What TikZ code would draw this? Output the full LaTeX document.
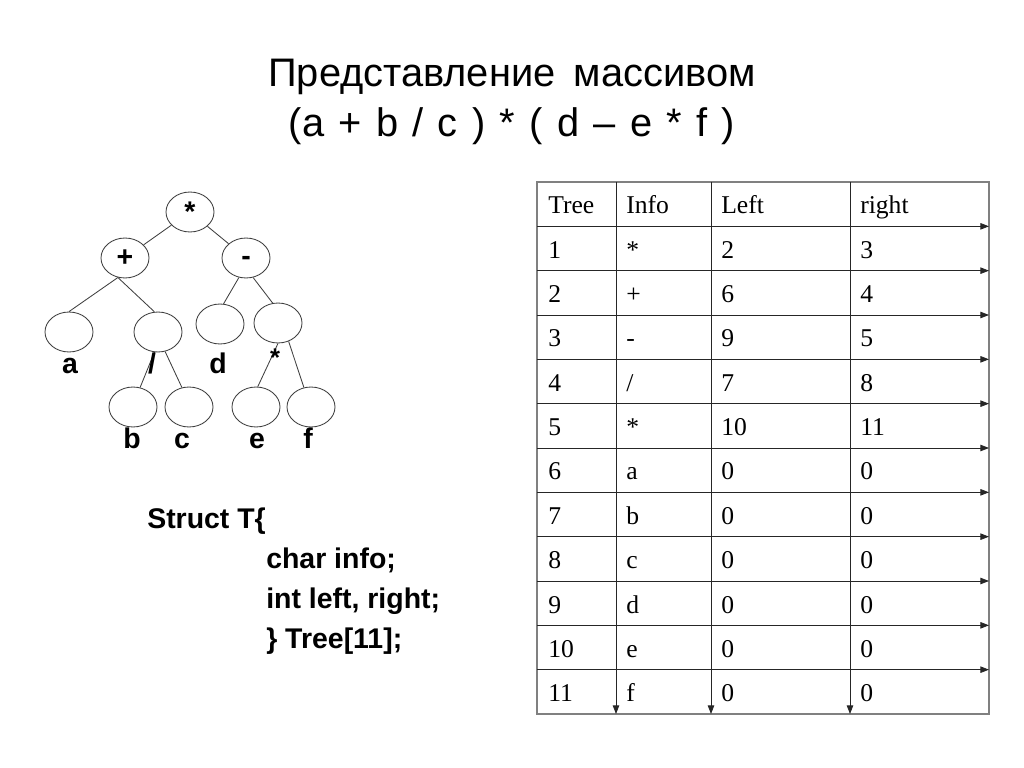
\documentclass[tikz,border=0pt]{standalone}
\usepackage{fontspec}
\setmainfont{Liberation Serif}
\newfontfamily\arialfont{Liberation Sans}
\usetikzlibrary{shapes.geometric,arrows.meta}
\newcommand\widespaces{\spaceskip=0.36em\relax}
\begin{document}
\begin{tikzpicture}[x=0.703125pt,y=-0.703125pt,
  tnode/.style={ellipse,draw=black!75,line width=0.6pt,minimum width=33.75pt,minimum height=28.1pt,inner sep=0pt,font=\arialfont\bfseries\fontsize{20}{24}\selectfont},
  edge/.style={draw=black!75,line width=0.6pt},
  lab/.style={anchor=base,inner sep=0pt,font=\arialfont\bfseries\fontsize{20}{24}\selectfont},
  code/.style={anchor=base west,inner sep=0pt,font=\arialfont\bfseries\fontsize{20}{24}\selectfont},
  titletext/.style={anchor=base,inner sep=0pt,font=\arialfont\fontsize{28}{34}\selectfont},
  cell/.style={anchor=base west,inner sep=0pt,font=\fontsize{18}{22}\selectfont},
  gridarrow/.style={draw=black!85,line width=0.6pt,-{Triangle[length=6pt,width=4.5pt]}},
  border/.style={draw=black!50,line width=0.8pt},
]
\useasboundingbox (0,0) rectangle (1024,768);

% Title
\node[titletext] (t1) at (512,87) {\widespaces Представление\hspace{0.1em} массивом};
\node[titletext] (t2) at (512,137) {\widespaces (a + b / c ) * ( d – e * f )};

% Tree
\node[tnode] (root)  at (190,212) {*};
\node[tnode] (plus)  at (125,258) {+};
\node[tnode] (minus) at (246,258) {\raisebox{-0.27em}[0pt][0pt]{-}};
\node[tnode] (na)    at (69,332) {};
\node[tnode] (slash) at (158,332) {};
\node[tnode] (nd)    at (220,324) {};
\node[tnode] (ef)    at (278,323) {};
\node[tnode] (nb)    at (133,407) {};
\node[tnode] (nc)    at (189,407) {};
\node[tnode] (ne)    at (256,407) {};
\node[tnode] (nf)    at (311,407) {};

\draw[edge] (root) -- (plus);
\draw[edge] (root) -- (minus);
\draw[edge] (plus.250) -- (na.north);
\draw[edge] (plus.250) -- (slash.100);
\draw[edge] (minus.250) -- (nd.80);
\draw[edge] (minus.290) -- (ef.105);
\draw[edge] (slash.260) -- (nb.70);
\draw[edge] (slash.290) -- (nc.110);
\draw[edge] (ef.south) -- (ne.85);
\draw[edge] (ef.300) -- (nf.110);

\node[lab] (la) at (70,373) {a};
\node[lab] (ls) at (152,373) {/};
\node[lab] (ld) at (218,373) {d};
\node[lab,font=\arialfont\bfseries\fontsize{18}{22}\selectfont] (lm) at (275,366) {*};
\node[lab] (lb) at (132,448) {b};
\node[lab] (lc) at (182,448) {c};
\node[lab] (le) at (257,448) {e};
\node[lab] (lf) at (308,448) {f};

% Struct
\node[code] (s1) at (147,528) {Struct T\{};
\node[code] (s2) at (266,568) {char info;};
\node[code] (s3) at (266,608) {int left, right;};
\node[code] (s4) at (266,648) {\} Tree[11];};

% Table
\coordinate (tl) at (537,182);
\coordinate (br) at (989,714);
\draw[border] (tl) rectangle (br);
\foreach \k in {1,...,11}{
  \coordinate (rl\k) at (537,{182+\k*44.333});
  \coordinate (rr\k) at (989,{182+\k*44.333});
  \draw[gridarrow] (rl\k) -- (rr\k);
}
\foreach \c [count=\i] in {616,711,850}{
  \coordinate (ct\i) at (\c,182);
  \coordinate (cb\i) at (\c,714);
  \draw[gridarrow] (ct\i) -- (cb\i);
}
\foreach \a/\b/\c/\d [count=\r from 0] in {Tree/Info/Left/right,1/*/2/3,2/+/6/4,3/-/9/5,4/{/}/7/8,5/*/10/11,6/a/0/0,7/b/0/0,8/c/0/0,9/d/0/0,10/e/0/0,11/f/0/0}{
  \node[cell] (c\r a) at (548,{182+\r*44.333+32}) {\a};
  \node[cell] (c\r b) at (626,{182+\r*44.333+32}) {\b};
  \node[cell] (c\r c) at (721,{182+\r*44.333+32}) {\c};
  \node[cell] (c\r d) at (860,{182+\r*44.333+32}) {\d};
}
\end{tikzpicture}
\end{document}
